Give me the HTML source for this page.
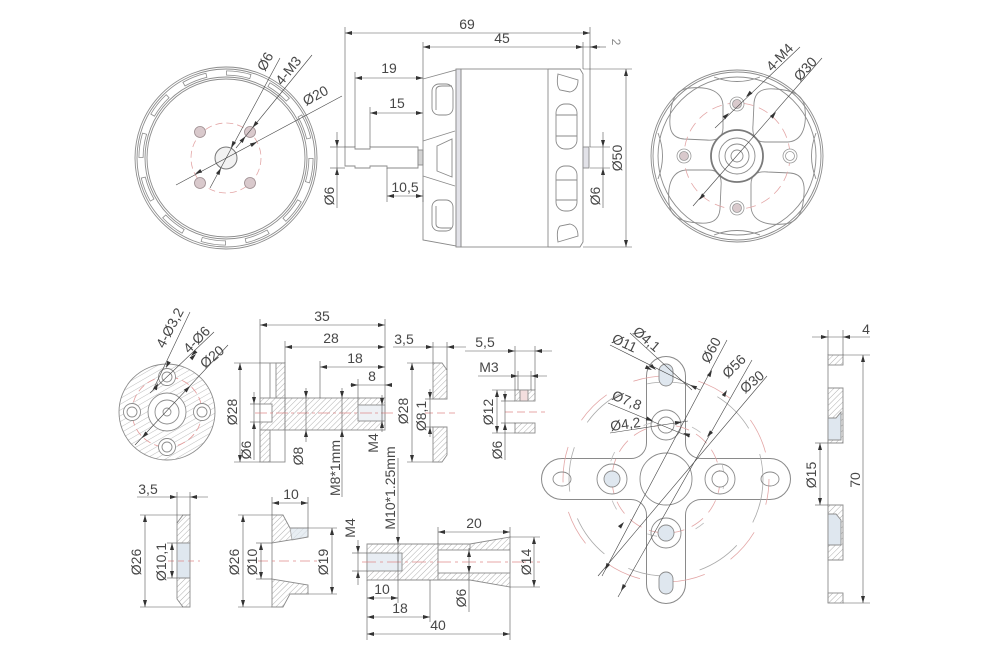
<!DOCTYPE html>
<html><head><meta charset="utf-8">
<style>
html,body{margin:0;padding:0;background:#fff}
svg{display:block}
text{font-family:"Liberation Sans",sans-serif;font-size:14px;fill:#474747}
</style></head><body>
<svg width="990" height="660" viewBox="0 0 990 660" xmlns="http://www.w3.org/2000/svg">
<defs>
<pattern id="h" width="4" height="4" patternUnits="userSpaceOnUse" patternTransform="rotate(45)"><line x1="0" y1="0" x2="0" y2="4" stroke="#9a9a9a" stroke-width="0.8"/></pattern>
<pattern id="h2" width="5" height="5" patternUnits="userSpaceOnUse" patternTransform="rotate(60)"><line x1="0" y1="0" x2="0" y2="5" stroke="#a0a0a0" stroke-width="0.7"/></pattern>
<path id="a" d="M0,0 L-7,-2 L-7,2 Z" fill="#333"/>
</defs>
<rect width="990" height="660" fill="#fff"/>

<!-- ============ LEFT FRONT VIEW ============ -->
<g fill="none" stroke="#8c8c8c" stroke-width="0.9">
<circle cx="226" cy="158" r="91"/>
<circle cx="226" cy="158" r="89"/>
<circle cx="226" cy="158" r="81"/>
<circle cx="226" cy="158" r="79"/>
<circle cx="226" cy="158" r="85" stroke-width="5" stroke-dasharray="25 19.5"/>
<circle cx="226" cy="158" r="85" stroke="#fff" stroke-width="3.4" stroke-dasharray="23.4 21.1" stroke-dashoffset="-0.8"/>
</g>
<circle cx="226" cy="158" r="35" fill="none" stroke="#e3a6a6" stroke-width="0.8" stroke-dasharray="7 4"/>
<circle cx="226" cy="158" r="11" fill="#f2f2f2" stroke="#777" stroke-width="1"/>
<g fill="#d9c9cc" stroke="#9a8a8d" stroke-width="0.8">
<circle cx="200" cy="132" r="5.5"/><circle cx="250" cy="132" r="5.5"/>
<circle cx="200" cy="183" r="5.5"/><circle cx="250" cy="183" r="5.5"/>
</g>
<g stroke="#444" stroke-width="0.6" fill="none">
<line x1="176" y1="185" x2="342" y2="96"/>
<line x1="210" y1="188" x2="280" y2="58"/>
<line x1="236" y1="148" x2="312" y2="55"/>
</g>
<use href="#a" transform="translate(257,142) rotate(-28)"/>
<use href="#a" transform="translate(195,174) rotate(152)"/>
<use href="#a" transform="translate(231,148) rotate(118)"/>
<use href="#a" transform="translate(221,168) rotate(-62)"/>
<use href="#a" transform="translate(252.5,127.7) rotate(129)"/>
<use href="#a" transform="translate(245.5,136.3) rotate(-51)"/>
<text transform="translate(265,72) rotate(-62)">Ø6</text>
<text transform="translate(282,86) rotate(-51)">4-M3</text>
<text transform="translate(306,106) rotate(-28)">Ø20</text>

<!-- ============ SIDE VIEW ============ -->
<g fill="none" stroke="#8a8a8a" stroke-width="0.9">
<path d="M345,147 H355 V149 H370 V147 H418 V168 H387 V166 H370 V168 H355 V166 H345 Z"/>
<rect x="418" y="150" width="5" height="15" fill="#d4d4d4"/>
<path d="M423,79 L456,70 L456,246 L423,240 Z"/>
<rect x="456" y="69" width="5" height="178" fill="#e2e2e8"/>
<rect x="432" y="84" width="21" height="31" rx="7"/>
<path d="M436,90 Q436,86 442,86 L452,86 M436,90 V110"/>
<rect x="432" y="200" width="21" height="31" rx="7"/>
<path d="M436,206 V224 Q436,228 442,228 H452"/>
<path d="M423,141 L455,131 M423,176 L455,186"/>
<path d="M437,146 L452,139 L452,177 L437,171 Z"/>
<rect x="461" y="69" width="87" height="178"/>
<path d="M548,69 H580 L583,74 V242 L580,247 H548"/>
<path d="M558,74 L578,80 Q578,90 570,92 L560,90 Q556,86 558,74 Z"/>
<rect x="556" y="104" width="21" height="45" rx="9"/>
<line x1="556" y1="115" x2="577" y2="115"/><line x1="556" y1="136" x2="577" y2="136"/>
<rect x="556" y="166" width="21" height="45" rx="9"/>
<line x1="556" y1="180" x2="577" y2="180"/><line x1="556" y1="200" x2="577" y2="200"/>
<path d="M558,242 L578,236 Q578,226 570,224 L560,226 Q556,230 558,242 Z"/>
<rect x="583" y="147" width="6" height="21" fill="#e2e2e8"/>
</g>
<g stroke="#555" stroke-width="0.6" fill="none">
<line x1="345" y1="27" x2="345" y2="147"/>
<line x1="590" y1="27" x2="590" y2="147"/>
<line x1="345" y1="33" x2="590" y2="33"/>
<line x1="423" y1="42" x2="423" y2="79"/>
<line x1="583" y1="42" x2="583" y2="69"/>
<line x1="423" y1="47" x2="583" y2="47"/>
<line x1="583" y1="47" x2="600" y2="47"/>
<line x1="590" y1="47" x2="606" y2="47"/>
<line x1="355" y1="72" x2="355" y2="147"/>
<line x1="355" y1="78" x2="423" y2="78"/>
<line x1="370" y1="107" x2="370" y2="147"/>
<line x1="370" y1="113" x2="423" y2="113"/>
<line x1="387" y1="168" x2="387" y2="202"/>
<line x1="387" y1="196" x2="423" y2="196"/>
<line x1="423" y1="190" x2="423" y2="202"/>
<line x1="330" y1="147" x2="345" y2="147"/>
<line x1="330" y1="168" x2="345" y2="168"/>
<line x1="337" y1="132" x2="337" y2="208"/>
<line x1="583" y1="69" x2="632" y2="69"/>
<line x1="583" y1="247" x2="632" y2="247"/>
<line x1="626" y1="69" x2="626" y2="247"/>
<line x1="590" y1="147" x2="610" y2="147"/>
<line x1="590" y1="168" x2="610" y2="168"/>
<line x1="603" y1="132" x2="603" y2="208"/>
</g>
<use href="#a" transform="translate(345,33) rotate(180)"/><use href="#a" transform="translate(590,33)"/>
<use href="#a" transform="translate(423,47) rotate(180)"/><use href="#a" transform="translate(583,47)"/>
<use href="#a" transform="translate(590,47) rotate(180)"/>
<use href="#a" transform="translate(355,78) rotate(180)"/><use href="#a" transform="translate(423,78)"/>
<use href="#a" transform="translate(370,113) rotate(180)"/><use href="#a" transform="translate(423,113)"/>
<use href="#a" transform="translate(387,196) rotate(180)"/><use href="#a" transform="translate(423,196)"/>
<use href="#a" transform="translate(337,147) rotate(90)"/><use href="#a" transform="translate(337,168) rotate(-90)"/>
<use href="#a" transform="translate(626,69) rotate(-90)"/><use href="#a" transform="translate(626,247) rotate(90)"/>
<use href="#a" transform="translate(603,147) rotate(90)"/><use href="#a" transform="translate(603,168) rotate(-90)"/>
<text x="467" y="29" text-anchor="middle">69</text>
<text x="502" y="43" text-anchor="middle">45</text>
<text transform="translate(612,42) rotate(90)" text-anchor="middle" style="fill:#888;font-size:12px">2</text>
<text x="389" y="73" text-anchor="middle">19</text>
<text x="397" y="108" text-anchor="middle">15</text>
<text x="405" y="192" text-anchor="middle">10,5</text>
<text transform="translate(334,196) rotate(-90)" text-anchor="middle">Ø6</text>
<text transform="translate(600,196) rotate(-90)" text-anchor="middle">Ø6</text>
<text transform="translate(622,158) rotate(-90)" text-anchor="middle">Ø50</text>

<!-- ============ RIGHT FRONT VIEW ============ -->
<g fill="none" stroke="#8c8c8c" stroke-width="0.9">
<circle cx="737" cy="156" r="86"/>
<circle cx="737" cy="156" r="84"/>
<circle cx="737" cy="156" r="79"/>
<path d="M714,77 Q737,86 760,77"/>
<path d="M714,77 Q737,86 760,77" transform="rotate(90 737 156)"/>
<path d="M714,77 Q737,86 760,77" transform="rotate(180 737 156)"/>
<path d="M714,77 Q737,86 760,77" transform="rotate(270 737 156)"/>
<path d="M690,88 C710,86 722,92 723,105 L723,128 C723,138 716,141 706,140 L684,139 C672,138 669,130 670,118 C671,100 676,89 690,88 Z"/>
<path d="M690,88 C710,86 722,92 723,105 L723,128 C723,138 716,141 706,140 L684,139 C672,138 669,130 670,118 C671,100 676,89 690,88 Z" transform="rotate(90 737 156)"/>
<path d="M690,88 C710,86 722,92 723,105 L723,128 C723,138 716,141 706,140 L684,139 C672,138 669,130 670,118 C671,100 676,89 690,88 Z" transform="rotate(180 737 156)"/>
<path d="M690,88 C710,86 722,92 723,105 L723,128 C723,138 716,141 706,140 L684,139 C672,138 669,130 670,118 C671,100 676,89 690,88 Z" transform="rotate(270 737 156)"/>
<circle cx="737" cy="156" r="26" stroke-width="1.8" stroke="#7a7a7a"/>
<circle cx="737" cy="156" r="18"/>
<circle cx="737" cy="156" r="12"/>
<circle cx="737" cy="156" r="6"/>
</g>
<circle cx="737" cy="156" r="53" fill="none" stroke="#e3a6a6" stroke-width="0.8" stroke-dasharray="10 6"/>
<g stroke="#999" stroke-width="0.8">
<circle cx="737" cy="104" r="7" fill="#fff"/><circle cx="737" cy="104" r="4.5" fill="#d9c9cc"/>
<circle cx="684" cy="156" r="7" fill="#fff"/><circle cx="684" cy="156" r="4.5" fill="#d9c9cc"/>
<circle cx="790" cy="156" r="7" fill="#fff"/><circle cx="790" cy="156" r="4.5" fill="#fff"/>
<circle cx="737" cy="208" r="7" fill="#fff"/><circle cx="737" cy="208" r="4.5" fill="#d9c9cc"/>
</g>
<g stroke="#444" stroke-width="0.6" fill="none">
<line x1="715" y1="128" x2="800" y2="47"/>
<line x1="693" y1="206" x2="822" y2="58"/>
</g>
<use href="#a" transform="translate(729,113) rotate(-44)"/>
<use href="#a" transform="translate(746,97) rotate(136)"/>
<use href="#a" transform="translate(699,200) rotate(131)"/>
<use href="#a" transform="translate(776,112) rotate(-49)"/>
<text transform="translate(772,72) rotate(-46)">4-M4</text>
<text transform="translate(800,82) rotate(-48)">Ø30</text>

<!-- ============ ADAPTER FRONT VIEW ============ -->
<circle cx="167" cy="412" r="48" fill="url(#h2)" stroke="#8c8c8c" stroke-width="0.9"/>
<circle cx="167" cy="412" r="35" fill="none" stroke="#e39a9a" stroke-width="0.8" stroke-dasharray="8 4"/>
<g stroke="#8c8c8c" stroke-width="0.9" fill="#fff">
<circle cx="167" cy="412" r="19"/>
<circle cx="167" cy="412" r="12" fill="none"/>
<circle cx="167" cy="412" r="4" fill="none"/>
<circle cx="167" cy="377" r="8.5"/><circle cx="167" cy="377" r="5" fill="none"/>
<circle cx="132" cy="412" r="8.5"/><circle cx="132" cy="412" r="5" fill="none"/>
<circle cx="202" cy="412" r="8.5"/><circle cx="202" cy="412" r="5" fill="none"/>
<circle cx="167" cy="447" r="8.5"/><circle cx="167" cy="447" r="5" fill="none"/>
</g>
<g stroke="#444" stroke-width="0.6" fill="none">
<line x1="190" y1="312" x2="153" y2="390"/>
<line x1="214" y1="332" x2="150" y2="393"/>
<line x1="228" y1="345" x2="135" y2="445"/>
</g>
<use href="#a" transform="translate(166,368) rotate(115)"/>
<use href="#a" transform="translate(158,383) rotate(-65)"/>
<use href="#a" transform="translate(191,356) rotate(136)"/>
<use href="#a" transform="translate(196,354) rotate(-44)"/>
<use href="#a" transform="translate(190,386) rotate(-47)"/>
<use href="#a" transform="translate(142,438) rotate(133)"/>
<text transform="translate(164,349) rotate(-62)">4-Ø3,2</text>
<text transform="translate(189,354) rotate(-45)">4-Ø6</text>
<text transform="translate(205,369) rotate(-40)">Ø20</text>

<!-- ============ ADAPTER SIDE VIEW ============ -->
<g stroke="#8c8c8c" stroke-width="0.9">
<rect x="260" y="363" width="25" height="99" fill="#fff"/>
<rect x="276" y="363" width="9" height="35" fill="url(#h)"/>
<rect x="260" y="398" width="25" height="32" fill="url(#h)"/>
<rect x="260" y="430" width="10" height="32" fill="url(#h)"/>
<rect x="260" y="404" width="12" height="18" fill="#fff"/>
<rect x="285" y="398" width="100" height="32" fill="url(#h)"/>
<rect x="358" y="405" width="27" height="16" fill="#eef1f5"/>
<line x1="270" y1="363" x2="270" y2="398" fill="none"/>
</g>
<line x1="255" y1="413" x2="393" y2="413" stroke="#e08a8a" stroke-width="0.8" stroke-dasharray="12 3 3 3"/>
<g stroke="#555" stroke-width="0.6" fill="none">
<line x1="260" y1="319" x2="260" y2="363"/>
<line x1="385" y1="319" x2="385" y2="398"/>
<line x1="260" y1="325" x2="385" y2="325"/>
<line x1="285" y1="341" x2="285" y2="363"/>
<line x1="285" y1="347" x2="385" y2="347"/>
<line x1="320" y1="361" x2="320" y2="398"/>
<line x1="320" y1="367" x2="385" y2="367"/>
<line x1="358" y1="379" x2="358" y2="405"/>
<line x1="350" y1="385" x2="392" y2="385"/>
<line x1="234" y1="363" x2="260" y2="363"/>
<line x1="234" y1="462" x2="260" y2="462"/>
<line x1="240" y1="363" x2="240" y2="462"/>
<line x1="250" y1="404" x2="260" y2="404"/>
<line x1="250" y1="422" x2="260" y2="422"/>
<line x1="254" y1="392" x2="254" y2="460"/>
<line x1="306" y1="388" x2="306" y2="442"/>
<line x1="342" y1="388" x2="342" y2="497"/>
<line x1="382" y1="395" x2="382" y2="432"/>
</g>
<use href="#a" transform="translate(260,325) rotate(180)"/><use href="#a" transform="translate(385,325)"/>
<use href="#a" transform="translate(285,347) rotate(180)"/><use href="#a" transform="translate(385,347)"/>
<use href="#a" transform="translate(320,367) rotate(180)"/><use href="#a" transform="translate(385,367)"/>
<use href="#a" transform="translate(358,385)"/><use href="#a" transform="translate(385,385) rotate(180)"/>
<use href="#a" transform="translate(240,363) rotate(-90)"/><use href="#a" transform="translate(240,462) rotate(90)"/>
<use href="#a" transform="translate(254,404) rotate(90)"/><use href="#a" transform="translate(254,422) rotate(-90)"/>
<use href="#a" transform="translate(306,398) rotate(90)"/><use href="#a" transform="translate(306,430) rotate(-90)"/>
<use href="#a" transform="translate(342,398) rotate(90)"/><use href="#a" transform="translate(342,430) rotate(-90)"/>
<use href="#a" transform="translate(382,405) rotate(90)"/><use href="#a" transform="translate(382,421) rotate(-90)"/>
<text x="322" y="321" text-anchor="middle">35</text>
<text x="331" y="343" text-anchor="middle">28</text>
<text x="355" y="363" text-anchor="middle">18</text>
<text x="372" y="381" text-anchor="middle">8</text>
<text transform="translate(237,412) rotate(-90)" text-anchor="middle">Ø28</text>
<text transform="translate(251,450) rotate(-90)" text-anchor="middle">Ø6</text>
<text transform="translate(303,456) rotate(-90)" text-anchor="middle">Ø8</text>
<text transform="translate(340,468) rotate(-90)" text-anchor="middle">M8*1mm</text>
<text transform="translate(378,443) rotate(-90)" text-anchor="middle">M4</text>

<!-- ============ WASHER 3,5 (top) ============ -->
<g stroke="#8c8c8c" stroke-width="0.9" fill="url(#h)">
<path d="M433,363 H442 L447,370 V399 H433 Z"/>
<path d="M433,427 H447 V455 L442,462 H433 Z"/>
</g>
<line x1="425" y1="413" x2="455" y2="413" stroke="#e08a8a" stroke-width="0.8" stroke-dasharray="8 4"/>
<g stroke="#555" stroke-width="0.6" fill="none">
<line x1="433" y1="342" x2="433" y2="363"/>
<line x1="447" y1="342" x2="447" y2="370"/>
<line x1="393" y1="347" x2="466" y2="347"/>
<line x1="407" y1="363" x2="433" y2="363"/>
<line x1="407" y1="462" x2="433" y2="462"/>
<line x1="412" y1="363" x2="412" y2="462"/>
<line x1="425" y1="399" x2="433" y2="399"/>
<line x1="425" y1="427" x2="433" y2="427"/>
<line x1="430" y1="389" x2="430" y2="437"/>
</g>
<use href="#a" transform="translate(433,347)"/><use href="#a" transform="translate(447,347) rotate(180)"/>
<use href="#a" transform="translate(412,363) rotate(-90)"/><use href="#a" transform="translate(412,462) rotate(90)"/>
<use href="#a" transform="translate(430,399) rotate(90)"/><use href="#a" transform="translate(430,427) rotate(-90)"/>
<text x="404" y="344" text-anchor="middle">3,5</text>
<text transform="translate(408,411) rotate(-90)" text-anchor="middle">Ø28</text>
<text transform="translate(426,416) rotate(-90)" text-anchor="middle">Ø8,1</text>

<!-- ============ NUT ============ -->
<g stroke="#8c8c8c" stroke-width="0.9">
<rect x="515" y="390" width="20" height="11" fill="url(#h)"/>
<rect x="520" y="390" width="8" height="11" fill="#f3dede"/>
<rect x="515" y="423" width="20" height="10" fill="url(#h)"/>
</g>
<line x1="505" y1="412" x2="545" y2="412" stroke="#e08a8a" stroke-width="0.8" stroke-dasharray="8 4"/>
<g stroke="#555" stroke-width="0.6" fill="none">
<line x1="515" y1="346" x2="515" y2="390"/>
<line x1="535" y1="346" x2="535" y2="390"/>
<line x1="465" y1="351" x2="552" y2="351"/>
<line x1="518" y1="371" x2="518" y2="390"/>
<line x1="531" y1="371" x2="531" y2="390"/>
<line x1="478" y1="376" x2="547" y2="376"/>
<line x1="492" y1="390" x2="515" y2="390"/>
<line x1="492" y1="433" x2="515" y2="433"/>
<line x1="497" y1="390" x2="497" y2="433"/>
<line x1="501" y1="401" x2="515" y2="401"/>
<line x1="501" y1="423" x2="515" y2="423"/>
<line x1="505" y1="391" x2="505" y2="460"/>
</g>
<use href="#a" transform="translate(515,351)"/><use href="#a" transform="translate(535,351) rotate(180)"/>
<use href="#a" transform="translate(518,376)"/><use href="#a" transform="translate(531,376) rotate(180)"/>
<use href="#a" transform="translate(497,390) rotate(-90)"/><use href="#a" transform="translate(497,433) rotate(90)"/>
<use href="#a" transform="translate(505,401) rotate(90)"/><use href="#a" transform="translate(505,423) rotate(-90)"/>
<text x="485" y="347" text-anchor="middle">5,5</text>
<text x="489" y="372" text-anchor="middle">M3</text>
<text transform="translate(493,412) rotate(-90)" text-anchor="middle">Ø12</text>
<text transform="translate(502,450) rotate(-90)" text-anchor="middle">Ø6</text>

<!-- ============ CROSS PLATE ============ -->
<g stroke="#8a8a8a" stroke-width="2" fill="none">
<rect x="542" y="459" width="248" height="40" rx="20"/>
<rect x="647" y="357" width="38" height="246" rx="19"/>
<path d="M631,459 A16,16 0 0 0 647,443 L647,459 Z"/>
<path d="M685,443 A16,16 0 0 0 701,459 L685,459 Z"/>
<path d="M631,499 A16,16 0 0 1 647,515 L647,499 Z"/>
<path d="M685,515 A16,16 0 0 1 701,499 L685,499 Z"/>
</g>
<g fill="#fff" stroke="none">
<rect x="542" y="459" width="248" height="40" rx="20"/>
<rect x="647" y="357" width="38" height="246" rx="19"/>
<path d="M631,459 A16,16 0 0 0 647,443 L647,459 Z"/>
<path d="M685,443 A16,16 0 0 0 701,459 L685,459 Z"/>
<path d="M631,499 A16,16 0 0 1 647,515 L647,499 Z"/>
<path d="M685,515 A16,16 0 0 1 701,499 L685,499 Z"/>
</g>
<g fill="none" stroke-width="0.8">
<circle cx="666" cy="479" r="97" stroke="#aaa" stroke-dasharray="45 28"/>
<circle cx="666" cy="479" r="103" stroke="#e3a6a6" stroke-dasharray="36 30" stroke-dashoffset="10"/>
<circle cx="666" cy="479" r="54" stroke="#e3a6a6" stroke-dasharray="14 8"/>
<circle cx="666" cy="479" r="58" stroke="#bbb" stroke-dasharray="10 40"/>
</g>
<g stroke="#8a8a8a" stroke-width="0.9" fill="none">
<circle cx="666" cy="479" r="26"/>
<circle cx="612" cy="479" r="15"/><circle cx="612" cy="479" r="8" fill="#dfe7ef"/>
<circle cx="720" cy="479" r="15"/><circle cx="720" cy="479" r="8" fill="#fff"/>
<circle cx="666" cy="425" r="15"/><circle cx="666" cy="425" r="8" fill="#fff"/>
<circle cx="666" cy="533" r="15"/><circle cx="666" cy="533" r="8" fill="#dfe7ef"/>
<ellipse cx="562" cy="479" rx="9" ry="7"/>
<ellipse cx="770" cy="479" rx="9" ry="7"/>
<rect x="659" y="364" width="14" height="22" rx="7" fill="#dfe7ef"/>
<rect x="659" y="572" width="14" height="22" rx="7" fill="#dfe7ef"/>
</g>
<g stroke="#444" stroke-width="0.6" fill="none">
<line x1="610" y1="345" x2="700" y2="390"/>
<line x1="630" y1="333" x2="692" y2="390"/>
<line x1="608" y1="403" x2="690" y2="437"/>
<line x1="610" y1="433" x2="688" y2="421"/>
<line x1="727" y1="340" x2="602" y2="576"/>
<line x1="752" y1="360" x2="618" y2="597"/>
<line x1="767" y1="376" x2="598" y2="576"/>
</g>
<use href="#a" transform="translate(652,370) rotate(26)"/>
<use href="#a" transform="translate(690,385) rotate(206)"/>
<use href="#a" transform="translate(656,370) rotate(42)"/>
<use href="#a" transform="translate(653,421) rotate(22)"/>
<use href="#a" transform="translate(683,433) rotate(202)"/>
<use href="#a" transform="translate(682,422) rotate(-8)"/>
<use href="#a" transform="translate(712,370) rotate(-62)"/>
<use href="#a" transform="translate(605,570) rotate(118)"/>
<use href="#a" transform="translate(727,390) rotate(-60)"/>
<use href="#a" transform="translate(621,591) rotate(120)"/>
<use href="#a" transform="translate(707,437) rotate(130)"/>
<use href="#a" transform="translate(624,522) rotate(-50)"/>
<text transform="translate(611,342) rotate(25)">Ø11</text>
<text transform="translate(632,333) rotate(40)">Ø4,1</text>
<text transform="translate(611,399) rotate(22)">Ø7,8</text>
<text transform="translate(611,431) rotate(-8)">Ø4,2</text>
<text transform="translate(709,364) rotate(-62)">Ø60</text>
<text transform="translate(728,379) rotate(-45)">Ø56</text>
<text transform="translate(745,394) rotate(-40)">Ø30</text>

<!-- ============ PLATE SIDE VIEW ============ -->
<g stroke="#8c8c8c" stroke-width="0.9">
<line x1="828" y1="355" x2="828" y2="603"/>
<rect x="828" y="355" width="15" height="10" fill="url(#h)"/>
<path d="M828,388 H843 V443 H828 Z" fill="url(#h)"/>
<path d="M828,418 H836 L841,412 V440 H828 Z" fill="#dfe7ef"/>
<path d="M828,505 H843 V560 H828 Z" fill="url(#h)"/>
<path d="M828,514 H836 L841,520 V545 H828 Z" fill="#dfe7ef"/>
<rect x="828" y="593" width="15" height="10" fill="url(#h)"/>
</g>
<g stroke="#555" stroke-width="0.6" fill="none">
<line x1="828" y1="330" x2="828" y2="355"/>
<line x1="843" y1="330" x2="843" y2="355"/>
<line x1="812" y1="337" x2="870" y2="337"/>
<line x1="843" y1="355" x2="870" y2="355"/>
<line x1="843" y1="603" x2="870" y2="603"/>
<line x1="863" y1="355" x2="863" y2="603"/>
<line x1="815" y1="443" x2="828" y2="443"/>
<line x1="815" y1="505" x2="828" y2="505"/>
<line x1="820" y1="443" x2="820" y2="505"/>
</g>
<use href="#a" transform="translate(828,337)"/><use href="#a" transform="translate(843,337) rotate(180)"/>
<use href="#a" transform="translate(863,355) rotate(-90)"/><use href="#a" transform="translate(863,603) rotate(90)"/>
<use href="#a" transform="translate(820,443) rotate(-90)"/><use href="#a" transform="translate(820,505) rotate(90)"/>
<text x="866" y="334" text-anchor="middle">4</text>
<text transform="translate(860,480) rotate(-90)" text-anchor="middle">70</text>
<text transform="translate(816,475) rotate(-90)" text-anchor="middle">Ø15</text>

<!-- ============ WASHER 3,5 (bottom) ============ -->
<g stroke="#8c8c8c" stroke-width="0.9">
<path d="M183,515 H190 V543 H177 V523 Z" fill="url(#h)"/>
<rect x="177" y="543" width="13" height="35" fill="#dfe7ef"/>
<path d="M177,578 H190 V607 H183 L177,599 Z" fill="url(#h)"/>
</g>
<line x1="168" y1="561" x2="200" y2="561" stroke="#e08a8a" stroke-width="0.8" stroke-dasharray="6 4"/>
<g stroke="#555" stroke-width="0.6" fill="none">
<line x1="177" y1="492" x2="177" y2="523"/>
<line x1="190" y1="492" x2="190" y2="515"/>
<line x1="137" y1="497" x2="208" y2="497"/>
<line x1="140" y1="515" x2="183" y2="515"/>
<line x1="140" y1="607" x2="183" y2="607"/>
<line x1="145" y1="515" x2="145" y2="607"/>
<line x1="167" y1="543" x2="177" y2="543"/>
<line x1="167" y1="578" x2="177" y2="578"/>
<line x1="172" y1="543" x2="172" y2="578"/>
</g>
<use href="#a" transform="translate(177,497)"/><use href="#a" transform="translate(190,497) rotate(180)"/>
<use href="#a" transform="translate(145,515) rotate(-90)"/><use href="#a" transform="translate(145,607) rotate(90)"/>
<use href="#a" transform="translate(172,543) rotate(-90)"/><use href="#a" transform="translate(172,578) rotate(90)"/>
<text x="148" y="494" text-anchor="middle">3,5</text>
<text transform="translate(141,562) rotate(-90)" text-anchor="middle">Ø26</text>
<text transform="translate(166,562) rotate(-90)" text-anchor="middle">Ø10,1</text>

<!-- ============ FLANGE (bottom) ============ -->
<g stroke="#8c8c8c" stroke-width="0.9">
<path d="M272,515 H283 L290,528 H308 V537 L272,543 Z" fill="url(#h)"/>
<path d="M290,528 H308 V537 L292,540 Z" fill="#dfe7ef" opacity="0.7"/>
<path d="M272,607 H283 L290,594 H308 V585 L272,579 Z" fill="url(#h)"/>
<line x1="272" y1="543" x2="272" y2="579"/>
</g>
<line x1="258" y1="561" x2="318" y2="561" stroke="#e08a8a" stroke-width="0.8" stroke-dasharray="10 4 3 4"/>
<g stroke="#555" stroke-width="0.6" fill="none">
<line x1="272" y1="497" x2="272" y2="515"/>
<line x1="308" y1="497" x2="308" y2="528"/>
<line x1="272" y1="503" x2="308" y2="503"/>
<line x1="238" y1="515" x2="272" y2="515"/>
<line x1="238" y1="607" x2="272" y2="607"/>
<line x1="243" y1="515" x2="243" y2="607"/>
<line x1="256" y1="543" x2="272" y2="543"/>
<line x1="256" y1="579" x2="272" y2="579"/>
<line x1="261" y1="543" x2="261" y2="579"/>
<line x1="308" y1="528" x2="337" y2="528"/>
<line x1="308" y1="594" x2="337" y2="594"/>
<line x1="332" y1="528" x2="332" y2="594"/>
</g>
<use href="#a" transform="translate(272,503) rotate(180)"/><use href="#a" transform="translate(308,503)"/>
<use href="#a" transform="translate(243,515) rotate(-90)"/><use href="#a" transform="translate(243,607) rotate(90)"/>
<use href="#a" transform="translate(261,543) rotate(-90)"/><use href="#a" transform="translate(261,579) rotate(90)"/>
<use href="#a" transform="translate(332,528) rotate(-90)"/><use href="#a" transform="translate(332,594) rotate(90)"/>
<text x="291" y="499" text-anchor="middle">10</text>
<text transform="translate(239,562) rotate(-90)" text-anchor="middle">Ø26</text>
<text transform="translate(257,562) rotate(-90)" text-anchor="middle">Ø10</text>
<text transform="translate(328,562) rotate(-90)" text-anchor="middle">Ø19</text>

<!-- ============ COLLET ============ -->
<g stroke="#8c8c8c" stroke-width="0.9">
<path d="M367,544 H470 L510,537 V587 L470,580 H367 Z" fill="url(#h)"/>
<rect x="367" y="553" width="35" height="18" fill="#e8edf3"/>
<rect x="438" y="550" width="72" height="23" fill="#fff"/>
<line x1="438" y1="544" x2="438" y2="580"/>
<line x1="470" y1="544" x2="470" y2="550"/>
</g>
<line x1="362" y1="562" x2="540" y2="562" stroke="#e08a8a" stroke-width="0.8" stroke-dasharray="14 4 3 4"/>
<g stroke="#555" stroke-width="0.6" fill="none">
<line x1="358" y1="540" x2="358" y2="585"/>
<line x1="352" y1="553" x2="367" y2="553"/>
<line x1="352" y1="571" x2="367" y2="571"/>
<line x1="398" y1="458" x2="398" y2="603"/>
<line x1="438" y1="527" x2="438" y2="544"/>
<line x1="510" y1="527" x2="510" y2="537"/>
<line x1="438" y1="532" x2="510" y2="532"/>
<line x1="510" y1="537" x2="540" y2="537"/>
<line x1="510" y1="587" x2="540" y2="587"/>
<line x1="534" y1="537" x2="534" y2="587"/>
<line x1="469" y1="548" x2="469" y2="612"/>
<line x1="367" y1="580" x2="367" y2="640"/>
<line x1="430" y1="580" x2="430" y2="622"/>
<line x1="510" y1="587" x2="510" y2="640"/>
<line x1="367" y1="598" x2="398" y2="598"/>
<line x1="367" y1="617" x2="430" y2="617"/>
<line x1="367" y1="634" x2="510" y2="634"/>
</g>
<use href="#a" transform="translate(358,553) rotate(90)"/><use href="#a" transform="translate(358,571) rotate(-90)"/>
<use href="#a" transform="translate(398,544) rotate(90)"/>
<use href="#a" transform="translate(438,532) rotate(180)"/><use href="#a" transform="translate(510,532)"/>
<use href="#a" transform="translate(534,537) rotate(-90)"/><use href="#a" transform="translate(534,587) rotate(90)"/>
<use href="#a" transform="translate(469,550) rotate(-90)"/><use href="#a" transform="translate(469,573) rotate(90)"/>
<use href="#a" transform="translate(367,598) rotate(180)"/><use href="#a" transform="translate(398,598)"/>
<use href="#a" transform="translate(367,617) rotate(180)"/><use href="#a" transform="translate(430,617)"/>
<use href="#a" transform="translate(367,634) rotate(180)"/><use href="#a" transform="translate(510,634)"/>
<text transform="translate(355,528) rotate(-90)" text-anchor="middle">M4</text>
<text transform="translate(395,488) rotate(-90)" text-anchor="middle">M10*1.25mm</text>
<text x="474" y="528" text-anchor="middle">20</text>
<text transform="translate(531,562) rotate(-90)" text-anchor="middle">Ø14</text>
<text transform="translate(466,598) rotate(-90)" text-anchor="middle">Ø6</text>
<text x="382" y="594" text-anchor="middle">10</text>
<text x="400" y="613" text-anchor="middle">18</text>
<text x="438" y="630" text-anchor="middle">40</text>
</svg>
</body></html>
